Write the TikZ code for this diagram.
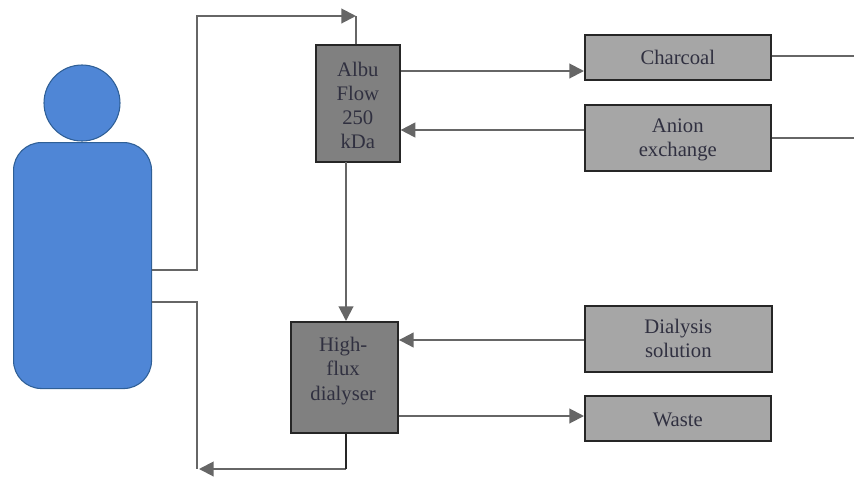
\documentclass[tikz,border=0pt]{standalone}
\usepackage{fontspec}
\setmainfont{Liberation Serif}
\usetikzlibrary{arrows.meta}
\definecolor{lineg}{HTML}{666666}
\definecolor{darkbox}{HTML}{808080}
\definecolor{lightbox}{HTML}{A6A6A6}
\definecolor{bodyblue}{HTML}{4F86D6}
\definecolor{bodyedge}{HTML}{2F5F96}
\definecolor{txt}{HTML}{303040}
\tikzset{
  x=0.75pt,y=-0.75pt,
  box/.style={draw=black!85,line width=1.2pt,inner sep=0pt,anchor=north west,text=txt,font=\fontsize{15.5pt}{18pt}\selectfont,align=center},
  darkb/.style={box,fill=darkbox},
  lightb/.style={box,fill=lightbox},
  flow/.style={draw=lineg,line width=1.5pt},
  arr/.style={flow,-{Triangle[length=11pt,width=11pt]}},
  person/.style={fill=bodyblue,draw=bodyedge,line width=0.8pt},
  boxlabel/.style={text=txt,font=\fontsize{15.5pt}{18.5pt}\selectfont,align=center},
}
\begin{document}
\begin{tikzpicture}
\useasboundingbox (0,0) rectangle (854,490);
% patient
\node[person,circle,minimum size=57pt,inner sep=0pt] (head) at (82,103) {};
\node[person,rounded corners=21pt,minimum width=103.5pt,minimum height=184.5pt,inner sep=0pt,anchor=north west] (body) at (13,142) {};
% boxes
\node[darkb,minimum width=63pt,minimum height=88pt,label={[boxlabel,font=\fontsize{15.5pt}{18pt}\selectfont,yshift=-1.5pt]center:Albu\\Flow\\250\\kDa}] (albu) at (315,44) {};
\node[darkb,minimum width=80.5pt,minimum height=83.5pt,label={[boxlabel,yshift=5pt,xshift=-1pt]center:High-\\flux\\dialyser}] (dial) at (290,321) {};
\node[lightb,minimum width=139.5pt,minimum height=34pt] (char) at (584,34) {Charcoal};
\node[lightb,minimum width=139.5pt,minimum height=49.5pt,label={[boxlabel,font=\fontsize{15.5pt}{18pt}\selectfont,yshift=-1.5pt]center:Anion\\exchange}] (anion) at (584,104) {};
\node[lightb,minimum width=140.25pt,minimum height=49.5pt] (sol) at (584,305) {Dialysis\\solution};
\node[lightb,minimum width=139.5pt,minimum height=34pt,label={[boxlabel,yshift=-1pt]center:Waste}] (waste) at (584,395) {};
% free ends
\coordinate (outA) at (854,56);
\coordinate (outB) at (854,138);
\coordinate (topcorner) at (356,16);
\coordinate (botcorner) at (199,469);
% connectors
\draw[arr] (body.east |- 0,270) -- (197,270) -- (197,16) -- (topcorner);
\draw[flow] (topcorner) -- (topcorner |- albu.north);
\draw[flow] (body.east |- 0,302) -- (197,302) -- (197,469);
\draw[arr] (346,469) -- (botcorner);
\draw[draw=black!85,line width=1.2pt] (346,433) -- (346,469);
\draw[arr] (346,162) -- (346,321);
\draw[arr] (albu.east |- 0,71) -- (char.west |- 0,71);
\draw[arr] (anion.west |- 0,130) -- (albu.east |- 0,130);
\draw[arr] (sol.west |- 0,340) -- (dial.east |- 0,340);
\draw[arr] (dial.east |- 0,416) -- (waste.west |- 0,416);
\draw[flow,line width=1pt] (char.east |- outA) -- (outA);
\draw[flow,line width=1pt] (anion.east |- outB) -- (outB);
\end{tikzpicture}
\end{document}
